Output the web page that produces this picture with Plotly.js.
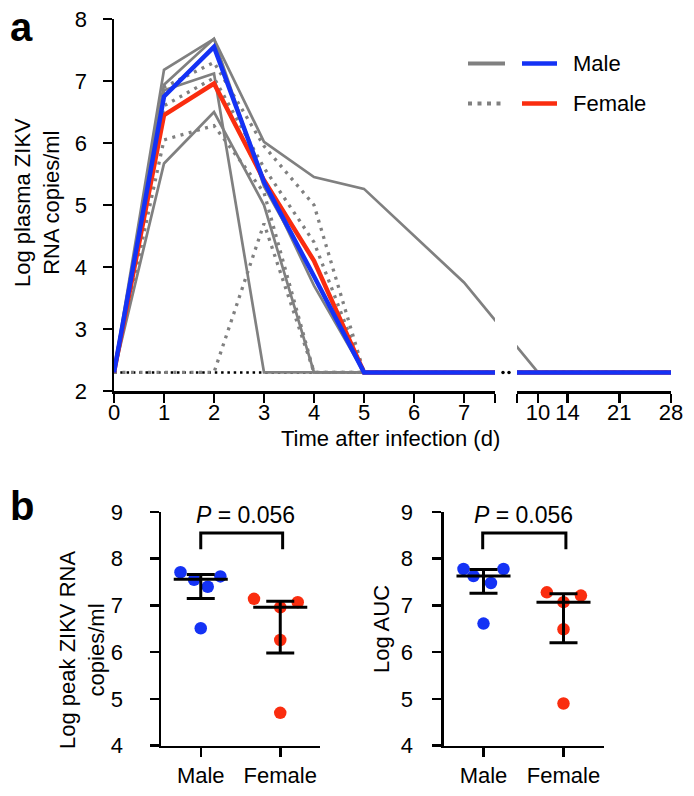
<!DOCTYPE html>
<html><head><meta charset="utf-8">
<script src="https://cdn.plot.ly/plotly-3.0.1.min.js"></script>
<style>html,body{margin:0;padding:0;background:#fff}#chart{width:694px;height:796px}</style>
</head><body><div id="chart"></div>
<script>
// ---------- data: panel a (log plasma ZIKV RNA copies/ml by day) ----------
const days = [0, 1, 2, 3, 4, 5, 7, 10, 14, 21, 28];
const lod = [2.3, 2.3, 2.3, 2.3, 2.3, 2.3, 2.3, 2.3, 2.3, 2.3, 2.3];
const male1 = [2.3, 7.18, 7.68, 6.02, 5.45, 5.26, 3.75, 2.3, 2.3, 2.3, 2.3];
const male2 = [2.3, 6.94, 7.68, 5.3, 3.85, 2.3, 2.3, 2.3, 2.3, 2.3, 2.3];
const male3 = [2.3, 6.85, 7.12, 2.3, 2.3, 2.3, 2.3, 2.3, 2.3, 2.3, 2.3];
const male4 = [2.3, 5.67, 6.5, 5.0, 2.3, 2.3, 2.3, 2.3, 2.3, 2.3, 2.3];
const male5 = [2.3, 6.75, 7.55, 5.4, 3.7, 2.3, 2.3, 2.3, 2.3, 2.3, 2.3];
const female1 = [2.3, 6.05, 6.28, 5.2, 2.3, 2.3, 2.3, 2.3, 2.3, 2.3, 2.3];
const female2 = [2.3, 2.3, 2.3, 4.7, 2.3, 2.3, 2.3, 2.3, 2.3, 2.3, 2.3];
const female3 = [2.3, 6.9, 7.3, 5.95, 5.0, 2.3, 2.3, 2.3, 2.3, 2.3, 2.3];
const female4 = [2.3, 6.6, 7.05, 5.6, 4.4, 2.3, 2.3, 2.3, 2.3, 2.3, 2.3];
const female5 = [2.3, 6.45, 6.96, 5.4, 4.1, 2.3, 2.3, 2.3, 2.3, 2.3, 2.3];
const maleMedian = [2.3, 6.75, 7.55, 5.37, 3.85, 2.3, 2.3, 2.3, 2.3, 2.3, 2.3];
const femaleMedian = [2.3, 6.45, 6.96, 5.4, 4.1, 2.3, 2.3, 2.3, 2.3, 2.3, 2.3];
const tickDays1 = [0, 1, 2, 3, 4, 5, 6, 7];
const tickDays2 = [10, 14, 21, 28];
const gapDotDays = [7.78, 7.9];          // break marker dots (axis position units)
const gapDotLevel = [2.3, 2.3];

// ---------- data: panel b ----------
const groups = ['Male', 'Female'];
const peakMale = [7.71, 7.55, 7.62, 7.40, 6.51];
const peakFemale = [7.14, 7.07, 6.96, 6.26, 4.70];
const peakMaleJitter = [-0.255, -0.084, 0.247, 0.088, 0];
const peakFemaleJitter = [-0.33, 0.22, 0, 0, 0];
const peakMid = [7.56, 6.96];
const peakUpper = [7.66, 7.09];
const peakLower = [7.15, 5.98];
const aucMale = [7.78, 7.63, 7.78, 7.48, 6.61];
const aucFemale = [7.28, 7.21, 7.07, 6.49, 4.90];
const aucMaleJitter = [-0.25, -0.125, 0.25, 0.093, 0];
const aucFemaleJitter = [-0.208, 0.218, 0, 0, 0];
const aucMid = [7.63, 7.07];
const aucUpper = [7.77, 7.25];
const aucLower = [7.26, 6.20];
const pText = '<i>P</i> = 0.056';

// ---------- broken time axis: days -> axis position ----------
const AX1_END = 7.62, AX2_START = 8.06;
function pos(d) { return d <= AX1_END ? d : 8.48 + (d - 10) * 0.1478; }

const W = 694, H = 796;
const px = v => v / W, py = v => 1 - v / H;

const GRAY = '#808080', BLUE = '#1432f5', RED = '#fa2d0f';
const FONT = 'Liberation Sans, Arial, Helvetica, sans-serif';

const traces = [];
function addSeries(y, line) {
  ['x', 'x2'].forEach(xa => traces.push({
    type: 'scatter', mode: 'lines', x: days.map(pos), y: y,
    xaxis: xa, yaxis: 'y', line: line, hoverinfo: 'skip'
  }));
}
addSeries(lod, {color: '#000', width: 2.5, dash: '2.5px,3.8px'});
[female1, female2, female3, female4, female5].forEach(s =>
  addSeries(s, {color: GRAY, width: 3.3, dash: '3px,5.5px'}));
[male1, male2, male3, male4, male5].forEach(s =>
  addSeries(s, {color: GRAY, width: 2.7}));
addSeries(femaleMedian, {color: RED, width: 4.5});
addSeries(maleMedian, {color: BLUE, width: 4.5});
traces.push({type: 'scatter', mode: 'markers', x: gapDotDays, y: gapDotLevel,
  xaxis: 'x3', yaxis: 'y', marker: {color: '#000', size: 3.5}, hoverinfo: 'skip'});

// panel b
function addGroup(xa, ya, male, maleJ, female, femaleJ, mid, up, lo) {
  traces.push({type: 'scatter', mode: 'markers', xaxis: xa, yaxis: ya,
    x: maleJ.map(j => 1 + j), y: male, marker: {color: BLUE, size: 12.5}, hoverinfo: 'skip'});
  traces.push({type: 'scatter', mode: 'markers', xaxis: xa, yaxis: ya,
    x: femaleJ.map(j => 2 + j), y: female, marker: {color: RED, size: 12.5}, hoverinfo: 'skip'});
  traces.push({type: 'scatter', mode: 'markers', xaxis: xa, yaxis: ya,
    x: [1, 2], y: mid,
    marker: {symbol: 'line-ew', size: 38.6, color: '#000', line: {color: '#000', width: 3}},
    error_y: {type: 'data', symmetric: false,
      array: up.map((u, i) => u - mid[i]), arrayminus: lo.map((l, i) => mid[i] - l),
      width: 14, thickness: 3, color: '#000'},
    hoverinfo: 'skip'});
}
addGroup('x4', 'y2', peakMale, peakMaleJitter, peakFemale, peakFemaleJitter, peakMid, peakUpper, peakLower);
addGroup('x5', 'y3', aucMale, aucMaleJitter, aucFemale, aucFemaleJitter, aucMid, aucUpper, aucLower);

const axBase = {showline: true, linecolor: '#000', linewidth: 2.5, ticks: 'outside',
  ticklen: 9, tickwidth: 2.5, tickcolor: '#000', showgrid: false, zeroline: false,
  tickfont: {family: FONT, size: 22, color: '#000'}, fixedrange: true};

const yTopDom = [py(391), py(19)];
const yBotDom = [py(745.5), py(512)];

const layout = {
  width: W, height: H, margin: {l: 0, r: 0, t: 0, b: 0},
  paper_bgcolor: '#fff', plot_bgcolor: 'rgba(0,0,0,0)', showlegend: false,
  font: {family: FONT, size: 22, color: '#000'},
  xaxis: Object.assign({}, axBase, {domain: [px(114), px(495)], range: [0, AX1_END], anchor: 'y',
    tickmode: 'array', tickvals: tickDays1.concat([AX1_END]), ticklabelstandoff: -9,
    ticktext: tickDays1.map(String).concat([''])}),
  xaxis2: Object.assign({}, axBase, {domain: [px(517), px(671)], range: [AX2_START, pos(28)], anchor: 'y',
    tickmode: 'array', tickvals: [AX2_START].concat(tickDays2.map(pos)), ticklabelstandoff: -9,
    ticktext: [''].concat(tickDays2.map(String))}),
  xaxis3: {domain: [px(114), px(671)], range: [0, pos(28)], anchor: 'y', visible: false, fixedrange: true},
  yaxis: Object.assign({}, axBase, {domain: yTopDom, range: [2, 8], anchor: 'x', dtick: 1, tick0: 2,
    ticksuffix: '\u2002'}),
  xaxis4: Object.assign({}, axBase, {domain: [px(161), px(320)], range: [0.5, 2.5], anchor: 'y2',
    tickmode: 'array', tickvals: [1, 2], ticktext: groups}),
  yaxis2: Object.assign({}, axBase, {domain: yBotDom, range: [4, 9], anchor: 'x4', dtick: 1, tick0: 4,
    ticksuffix: '\u2002\u2002'}),
  xaxis5: Object.assign({}, axBase, {domain: [px(443.5), px(603.5)], range: [0.5, 2.5], anchor: 'y3',
    tickmode: 'array', tickvals: [1, 2], ticktext: groups}),
  yaxis3: Object.assign({}, axBase, {domain: yBotDom, range: [4, 9], anchor: 'x5', dtick: 1, tick0: 4,
    ticksuffix: '\u2002\u2006'}),
  shapes: [
    // significance brackets
    {type: 'path', xref: 'x4', yref: 'y2', path: 'M1,8.2 V8.55 H2.03 V8.2', line: {color: '#000', width: 3}},
    {type: 'path', xref: 'x5', yref: 'y3', path: 'M0.99,8.2 V8.55 H2.03 V8.2', line: {color: '#000', width: 3}},
    // legend samples
    {type: 'line', xref: 'paper', yref: 'paper', x0: px(468), x1: px(505), y0: py(63.5), y1: py(63.5), line: {color: GRAY, width: 4}},
    {type: 'line', xref: 'paper', yref: 'paper', x0: px(522), x1: px(557), y0: py(63.5), y1: py(63.5), line: {color: BLUE, width: 4.5}},
    {type: 'line', xref: 'paper', yref: 'paper', x0: px(468), x1: px(503), y0: py(103.5), y1: py(103.5), line: {color: GRAY, width: 4, dash: '4px,5.5px'}},
    {type: 'line', xref: 'paper', yref: 'paper', x0: px(522), x1: px(557), y0: py(103.5), y1: py(103.5), line: {color: RED, width: 4.5}}
  ],
  annotations: [
    {xref: 'paper', yref: 'paper', x: px(571), y: py(63), xanchor: 'left', yanchor: 'middle', text: 'Male', showarrow: false},
    {xref: 'paper', yref: 'paper', x: px(571), y: py(103), xanchor: 'left', yanchor: 'middle', text: 'Female', showarrow: false},
    {xref: 'paper', yref: 'paper', x: px(390), y: py(438), xanchor: 'center', yanchor: 'middle', text: 'Time after infection (d)', showarrow: false},
    {xref: 'paper', yref: 'paper', x: px(37), y: py(203), xanchor: 'center', yanchor: 'middle', textangle: -90, text: 'Log plasma ZIKV<br>RNA copies/ml', showarrow: false},
    {xref: 'paper', yref: 'paper', x: px(82), y: py(650), xanchor: 'center', yanchor: 'middle', textangle: -90, text: 'Log peak ZIKV RNA<br>copies/ml', showarrow: false},
    {xref: 'paper', yref: 'paper', x: px(381), y: py(629), xanchor: 'center', yanchor: 'middle', textangle: -90, text: 'Log AUC', showarrow: false},
    {xref: 'x4', yref: 'y2', x: 1.56, y: 8.93, xanchor: 'center', yanchor: 'middle', text: pText, showarrow: false, font: {size: 23}},
    {xref: 'x5', yref: 'y3', x: 1.5, y: 8.93, xanchor: 'center', yanchor: 'middle', text: pText, showarrow: false, font: {size: 23}},
    {xref: 'paper', yref: 'paper', x: px(21), y: py(27), xanchor: 'center', yanchor: 'middle', text: '<b>a</b>', showarrow: false, font: {size: 40}},
    {xref: 'paper', yref: 'paper', x: px(22), y: py(506), xanchor: 'center', yanchor: 'middle', text: '<b>b</b>', showarrow: false, font: {size: 40}}
  ]
};

Plotly.newPlot('chart', traces, layout, {staticPlot: true, displayModeBar: false});
</script></body></html>
